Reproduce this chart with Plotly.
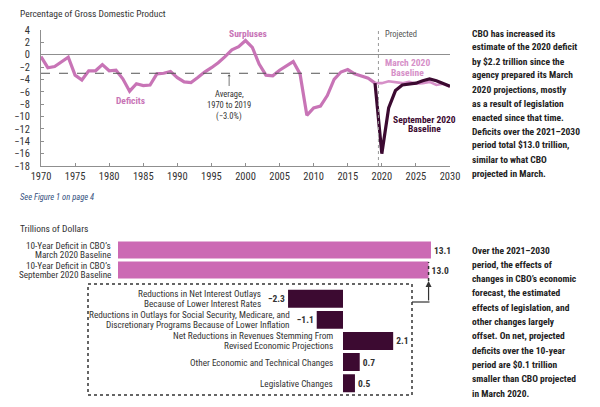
import plotly.graph_objects as go

# ---------------- data ----------------
years_hist = list(range(1970, 2020))
deficit_hist = [-0.3, -2.1, -1.9, -1.1, -0.4, -3.3, -4.1, -2.6, -2.6, -1.6,
                -2.6, -2.5, -3.9, -5.9, -4.7, -5.0, -4.9, -3.1, -3.0, -2.7,
                -3.7, -4.4, -4.5, -3.7, -2.8, -2.1, -1.3, -0.3, 0.8, 1.3,
                2.3, 1.2, -1.5, -3.3, -3.4, -2.5, -1.8, -1.1, -3.1, -9.8,
                -8.6, -8.3, -6.6, -4.0, -2.8, -2.4, -3.1, -3.4, -3.8, -4.6]
years_proj = list(range(2019, 2031))
march_2020 = [-4.6, -4.6, -4.3, -4.5, -4.6, -4.4, -4.7, -4.6, -4.4, -4.9, -4.7, -5.2]
sept_2020 = [-4.6, -16.0, -8.6, -5.8, -4.9, -4.8, -4.6, -4.2, -3.9, -4.2, -4.6, -5.1]
average_1970_2019 = -3.0
projection_start = 2019.5
x_ticks = list(range(1970, 2031, 5))
y_ticks = list(range(-18, 5, 2))

baseline_labels = ["10-Year Deficit in CBO’s<br>March 2020 Baseline",
                   "10-Year Deficit in CBO’s<br>September 2020 Baseline"]
baseline_values = [13.1, 13.0]
change_labels = ["Reductions in Net Interest Outlays<br>Because of Lower Interest Rates",
                 "Reductions in Outlays for Social Security, Medicare, and<br>Discretionary Programs Because of Lower Inflation",
                 "Net Reductions in Revenues Stemming From<br>Revised Economic Projections",
                 "Other Economic and Technical Changes",
                 "Legislative Changes"]
change_values = [-2.3, -1.1, 2.1, 0.7, 0.5]

text_top = ["CBO has increased its", "estimate of the 2020 deficit", "by $2.2 trillion since the",
            "agency prepared its March", "2020 projections, mostly", "as a result of legislation",
            "enacted since that time.", "Deficits over the 2021–2030", "period total $13.0 trillion,",
            "similar to what CBO", "projected in March."]
text_bottom = ["Over the 2021–2030", "period, the effects of", "changes in CBO’s economic",
               "forecast, the estimated", "effects of legislation, and", "other changes largely",
               "offset. On net, projected", "deficits over the 10-year", "period are $0.1 trillion",
               "smaller than CBO projected", "in March 2020."]

# ---------------- style ----------------
FONT = "Roboto Condensed, DejaVu Sans Condensed, sans-serif"
W, H = 600, 407
OFF = 8  # page body margin compensation
PINK_HIST = "#c874b6"
PINK_MARCH = "#d690c8"
DARK = "#3c0a31"
BAR_PINK = "#cc6ab4"
GRAY = "#8f8f8f"
TXT = "#333333"


def px(x):
    return (x - OFF) / W


def py(y):
    return 1 - (y - OFF) / H


def fmt(v):
    return f"{v:.1f}".replace("-", "−")


fig = go.Figure()

fig.add_trace(go.Scatter(x=years_hist, y=deficit_hist, mode="lines",
                         line=dict(color=PINK_HIST, width=3.2), xaxis="x", yaxis="y",
                         showlegend=False, hoverinfo="skip"))
fig.add_trace(go.Scatter(x=years_proj, y=march_2020, mode="lines",
                         line=dict(color=PINK_MARCH, width=2.6), xaxis="x", yaxis="y",
                         showlegend=False, hoverinfo="skip"))
fig.add_trace(go.Scatter(x=years_proj, y=sept_2020, mode="lines",
                         line=dict(color=DARK, width=3.2), xaxis="x", yaxis="y",
                         showlegend=False, hoverinfo="skip"))

bar_text_font = dict(family=FONT, size=9.5, color=TXT, weight="bold")
fig.add_trace(go.Bar(y=baseline_labels, x=baseline_values, orientation="h",
                     xaxis="x2", yaxis="y2", marker=dict(color=BAR_PINK, line=dict(width=0)),
                     text=[fmt(v) for v in baseline_values], textposition="outside",
                     textfont=bar_text_font, constraintext="none",
                     cliponaxis=False, showlegend=False, hoverinfo="skip"))
fig.add_trace(go.Bar(y=change_labels, x=change_values, orientation="h",
                     xaxis="x3", yaxis="y3", marker=dict(color=DARK, line=dict(width=0)),
                     text=[fmt(v) for v in change_values], textposition="outside",
                     textfont=bar_text_font, constraintext="none",
                     cliponaxis=False, showlegend=False, hoverinfo="skip"))

scale = 23.89  # px per trillion
annotations = []


def note(text, x, y, xref="paper", yref="paper", size=10, color=TXT, xanchor="center",
         yanchor="middle", bold=False, italic=False, align="center", **kw):
    annotations.append(dict(text=text, x=x, y=y, xref=xref, yref=yref, showarrow=False,
                            xanchor=xanchor, yanchor=yanchor, align=align,
                            font=dict(family=FONT, size=size, color=color,
                                      weight="bold" if bold else "normal",
                                      style="italic" if italic else "normal"), **kw))


def multiline(lines, x, y, xref, yref, spacing, **kw):
    n = len(lines)
    for i, line in enumerate(lines):
        note(line, x, y, xref, yref, yshift=((n - 1) / 2 - i) * spacing, **kw)


note("Percentage of Gross Domestic Product", px(18), py(13), xanchor="left", size=9.5)
note("Surpluses", 2000.4, 3.5, "x", "y", size=9.5, color=PINK_HIST, bold=True)
note("Deficits", 1983.2, -7.4, "x", "y", size=9.5, color=PINK_HIST, bold=True)
multiline(["Average,", "1970 to 2019", "(−3.0%)"], 1997.6, -8.2, "x", "y", 11, size=8.5)
annotations.append(dict(x=1997.6, y=average_1970_2019 - 0.2, ax=1997.6, ay=-5.3,
                        xref="x", yref="y", axref="x", ayref="y", text="", showarrow=True,
                        arrowhead=1, arrowsize=0.7, arrowwidth=0.8, arrowcolor="#555"))
note("Projected", 2020.2, 3.4, "x", "y", size=8.5, color="#555", xanchor="left")
multiline(["March 2020", "Baseline"], 2023.7, -2.1, "x", "y", 9.5, size=9.5,
          color=PINK_MARCH, bold=True)
multiline(["September 2020", "Baseline"], 2026.3, -11.2, "x", "y", 9.5, size=9.5,
          color=DARK, bold=True)

note("See Figure 1 on page 4", px(18), py(197), xanchor="left", size=8.5, color="#34507e",
     italic=True)
note("Trillions of Dollars", px(18), py(228), xanchor="left", size=9.5)

for lab in baseline_labels:
    multiline(lab.split("<br>"), 0, lab, "x2", "y2", 9, size=9.2, xanchor="right",
              xshift=-5)
for lab, v in zip(change_labels, change_values):
    multiline(lab.split("<br>"), min(v, 0), lab, "x3", "y3", 10, size=9.2,
              xanchor="right", xshift=-25 if v < 0 else -8)

for i, line in enumerate(text_top):
    note(line, px(470), py(33 + 14 * i), xanchor="left", size=9.5, bold=True, color="#222")
for i, line in enumerate(text_bottom):
    note(line, px(470), py(250 + 14.3 * i), xanchor="left", size=9.5, bold=True, color="#222")

shapes = [
    dict(type="line", xref="x", yref="y", x0=1970, x1=projection_start,
         y0=average_1970_2019, y1=average_1970_2019, line=dict(color="#555", width=1, dash="dash")),
    dict(type="line", xref="x", yref="y", x0=projection_start, x1=projection_start,
         y0=-18, y1=4, line=dict(color="#999", width=1, dash="dot")),
    dict(type="rect", xref="paper", yref="paper", x0=px(88), x1=px(412), y0=py(395), y1=py(284),
         line=dict(color="#333", width=1.5, dash="dot")),
    dict(type="line", xref="x2", yref="paper", x0=baseline_values[1], x1=baseline_values[1],
         y0=py(281), y1=py(262), line=dict(color="#333", width=1.5, dash="dot")),
    dict(type="line", xref="paper", yref="paper", x0=px(412), x1=px(429.5), y0=py(302), y1=py(302),
         line=dict(color="#333", width=1.2)),
]
annotations.append(dict(x=baseline_values[1], y=py(281), ax=0, ay=21,
                        xref="x2", yref="paper", axref="pixel", ayref="pixel", text="",
                        showarrow=True, arrowhead=2, arrowsize=1, arrowwidth=1.2,
                        arrowcolor="#333"))

tick_font = dict(family=FONT, size=10.5, color=TXT)

fig.update_layout(
    width=W, height=H, margin=dict(l=0, r=0, t=0, b=0, autoexpand=False),
    paper_bgcolor="white", plot_bgcolor="white",
    font=dict(family=FONT, color=TXT),
    xaxis=dict(domain=[px(41), px(450)], range=[1970, 2030], tickvals=x_ticks,
               ticks="inside", ticklen=3, tickcolor=GRAY, showline=True, linecolor=GRAY,
               linewidth=1, zeroline=False, showgrid=False, anchor="y", automargin=False,
               tickfont=tick_font, ticklabelstandoff=0),
    yaxis=dict(domain=[py(166), py(30)], range=[-18, 4], tickvals=y_ticks,
               ticks="inside", ticklen=3, tickcolor=GRAY, showline=True, linecolor=GRAY,
               linewidth=1, zeroline=True, zerolinecolor=GRAY, zerolinewidth=1,
               showgrid=False, anchor="x", automargin=False, tickfont=tick_font,
               ticklabelstandoff=8),
    xaxis2=dict(domain=[px(118), px(118 + 14 * scale)], range=[0, 14], visible=False,
                anchor="y2", automargin=False),
    yaxis2=dict(domain=[py(282), py(238)], autorange="reversed", visible=False,
                anchor="x2", automargin=False),
    xaxis3=dict(domain=[px(343 - 3 * scale), px(343 + 4 * scale)], range=[-3, 4],
                visible=False, anchor="y3", automargin=False),
    yaxis3=dict(domain=[py(393.75), py(286.25)], autorange="reversed", visible=False,
                anchor="x3", automargin=False),
    bargap=0.15,
    shapes=shapes,
    annotations=annotations,
)

fig.write_html("out.html")
